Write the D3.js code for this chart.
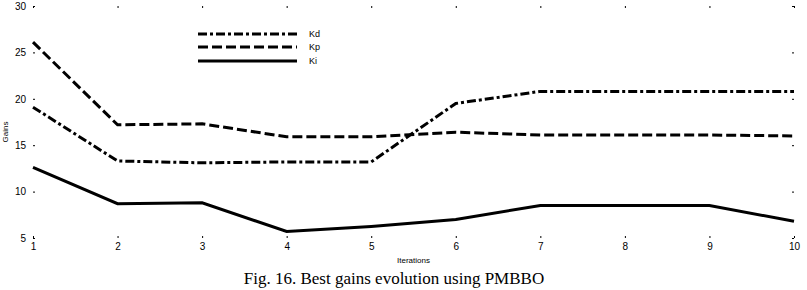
<!DOCTYPE html>
<html>
<head>
<meta charset="utf-8">
<script src="https://cdn.jsdelivr.net/npm/d3@7"></script>
<style>
  body { margin: 0; background: #fff; }
  svg { display: block; font-family: "Liberation Sans", Arial, sans-serif; }
</style>
</head>
<body>
<svg id="chart"></svg>
<script>
// Data
const iterations = [1, 2, 3, 4, 5, 6, 7, 8, 9, 10];
const kd = [19.1, 13.3, 13.1, 13.2, 13.2, 19.5, 20.8, 20.8, 20.8, 20.8];
const kp = [26.1, 17.2, 17.3, 15.9, 15.9, 16.4, 16.1, 16.1, 16.1, 16.0];
const ki = [12.6, 8.7, 8.8, 5.7, 6.25, 7.0, 8.5, 8.5, 8.5, 6.8];
const yTicks = [5, 10, 15, 20, 25, 30];
const seriesNames = ["Kd", "Kp", "Ki"];

const width = 807, height = 290;
const marginLeft = 33, marginRight = 13, marginTop = 6, marginBottom = 52;

const svg = d3.select("#chart")
    .attr("width", width)
    .attr("height", height)
    .attr("viewBox", [0, 0, width, height]);

const x = d3.scaleLinear([1, 10], [marginLeft, width - marginRight]);
const y = d3.scaleLinear([5, 30], [height - marginBottom, marginTop]);

// small inward ticks on all four sides, no frame lines
const tickLen = 2;
svg.append("g")
    .attr("transform", `translate(0,${y(5)})`)
    .call(d3.axisBottom(x).tickValues(iterations).tickSize(-tickLen).tickPadding(5).tickFormat(d3.format("d")))
    .call(g => g.select(".domain").remove())
    .call(g => g.selectAll("text").attr("font-size", 10).attr("fill", "#000"));
svg.append("g")
    .attr("transform", `translate(0,${y(30)})`)
    .call(d3.axisTop(x).tickValues(iterations).tickSize(-tickLen).tickFormat(""))
    .call(g => g.select(".domain").remove());
svg.append("g")
    .attr("transform", `translate(${x(1)},0)`)
    .call(d3.axisLeft(y).tickValues(yTicks).tickSize(-tickLen).tickPadding(7))
    .call(g => g.select(".domain").remove())
    .call(g => g.selectAll("text").attr("font-size", 10).attr("fill", "#000"));
svg.append("g")
    .attr("transform", `translate(${x(10)},0)`)
    .call(d3.axisRight(y).tickValues(yTicks).tickSize(-tickLen).tickFormat(""))
    .call(g => g.select(".domain").remove());

// axis labels
svg.append("text")
    .attr("x", (x(1) + x(10)) / 2)
    .attr("y", 263)
    .attr("text-anchor", "middle")
    .attr("font-size", 8)
    .text("Iterations");
svg.append("text")
    .attr("transform", `translate(8,${(y(5) + y(30)) / 2 + 10}) rotate(-90)`)
    .attr("text-anchor", "middle")
    .attr("font-size", 8)
    .text("Gains");

// lines
const dashes = {Kd: "9,3,3,3", Kp: "10,4", Ki: null};
const values = {Kd: kd, Kp: kp, Ki: ki};
const line = d3.line()
    .x((d, i) => x(iterations[i]))
    .y(d => y(d));

for (const name of seriesNames) {
    svg.append("path")
        .datum(values[name])
        .attr("fill", "none")
        .attr("stroke", "#000")
        .attr("stroke-width", 3)
        .attr("stroke-dasharray", dashes[name])
        .attr("d", line);
}

// legend
const legend = svg.append("g").attr("transform", "translate(198,34)");
seriesNames.forEach((name, i) => {
    const yy = i === 2 ? 27 : i * 13;
    legend.append("line")
        .attr("x1", 0).attr("x2", 99)
        .attr("y1", yy).attr("y2", yy)
        .attr("stroke", "#000")
        .attr("stroke-width", 3)
        .attr("stroke-dasharray", dashes[name]);
    legend.append("text")
        .attr("x", 111)
        .attr("y", yy + 3)
        .attr("font-size", 9)
        .text(name);
});

// caption
svg.append("text")
    .attr("x", 394)
    .attr("y", 284)
    .attr("text-anchor", "middle")
    .attr("font-family", "'Liberation Serif', 'Times New Roman', serif")
    .attr("font-size", 17)
    .text("Fig. 16. Best gains evolution using PMBBO");
</script>
</body>
</html>
